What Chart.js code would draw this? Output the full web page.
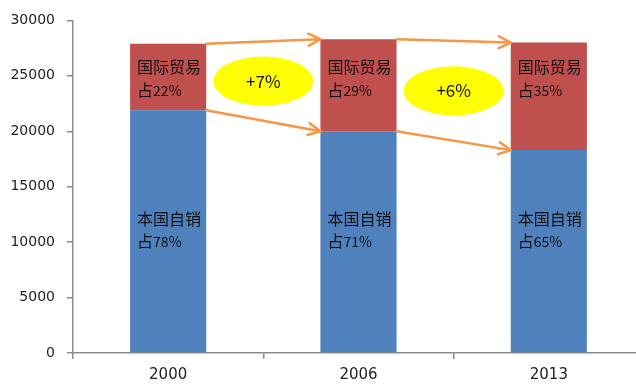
<!DOCTYPE html>
<html>
<head>
<meta charset="utf-8">
<script src="https://cdn.jsdelivr.net/npm/chart.js@4"></script>
<style>
    html, body { margin: 0; padding: 0; background: #fff; overflow: hidden; }
    /* оригинал обрезан справа: ось X уходит за край картинки */
    #wrap { width: 644px; height: 387px; }
</style>
</head>
<body>
<div id="wrap"><canvas id="chart"></canvas></div>
<script>
// данные
const years = ['2000', '2006', '2013'];
const domestic = [21900, 20000, 18300];
const trade = [6000, 8300, 9700];
const domesticShare = ['78%', '71%', '65%'];
const tradeShare = ['22%', '29%', '35%'];
const gains = ['+7%', '+6%'];
const yTicks = [0, 5000, 10000, 15000, 20000, 25000, 30000];

const BLUE = '#4F81BD';
const RED = '#C0504D';
const ORANGE = '#F79646';
const AXIS = '#8c8c8c';
const CJK = '"Noto Sans CJK SC", sans-serif';

function arrow(ctx, x1, y1, x2, y2) {
    const a = Math.atan2(y2 - y1, x2 - x1);
    ctx.beginPath();
    ctx.moveTo(x1, y1);
    ctx.lineTo(x2, y2);
    ctx.stroke();
    ctx.beginPath();
    ctx.moveTo(x2 - 12 * Math.cos(a) + 6 * Math.sin(a), y2 - 12 * Math.sin(a) - 6 * Math.cos(a));
    ctx.lineTo(x2, y2);
    ctx.lineTo(x2 - 12 * Math.cos(a) - 6 * Math.sin(a), y2 - 12 * Math.sin(a) + 6 * Math.cos(a));
    ctx.stroke();
}

function twoPart(ctx, x, y, head, tail) {
    ctx.font = '16px ' + CJK;
    ctx.fillText(head, x, y);
    const w = ctx.measureText(head).width;
    ctx.font = '14px ' + CJK;
    ctx.fillText(tail, x + w, y);
}

const overlay = {
    id: 'overlay',
    afterDatasetsDraw(chart) {
        const ctx = chart.ctx;
        const area = chart.chartArea;
        const low = chart.getDatasetMeta(0).data;
        const high = chart.getDatasetMeta(1).data;

        ctx.save();
        // стрелки и овалы между столбцами
        ctx.strokeStyle = ORANGE;
        ctx.lineWidth = 2.5;
        ctx.lineCap = 'round';
        ctx.lineJoin = 'round';
        for (let i = 0; i < low.length - 1; i++) {
            const xa = low[i].x + low[i].width / 2;
            const xb = low[i + 1].x - low[i + 1].width / 2;
            arrow(ctx, xa, high[i].y, xb, high[i + 1].y);
            arrow(ctx, xa, low[i].y, xb, low[i + 1].y);

            const cx = (xa + xb) / 2;
            const cy = (high[i].y + high[i + 1].y + low[i].y + low[i + 1].y) / 4;
            ctx.fillStyle = '#FFFF00';
            ctx.beginPath();
            ctx.ellipse(cx, cy, 50, 24.5, 0, 0, Math.PI * 2);
            ctx.fill();
            ctx.fillStyle = '#111';
            ctx.font = '17px ' + CJK;
            ctx.textAlign = 'center';
            ctx.textBaseline = 'middle';
            ctx.fillText(gains[i], cx, cy);
        }

        // подписи внутри столбцов
        ctx.fillStyle = '#111';
        ctx.textAlign = 'left';
        ctx.textBaseline = 'middle';
        low.forEach((bar, i) => {
            const x = bar.x - bar.width / 2 + 7;
            ctx.font = '16px ' + CJK;
            ctx.fillText('国际贸易', x, area.top + 47);
            twoPart(ctx, x, area.top + 70, '占', tradeShare[i]);
            ctx.font = '16px ' + CJK;
            ctx.fillText('本国自销', x, area.top + 199);
            twoPart(ctx, x, area.top + 221, '占', domesticShare[i]);
        });
        ctx.restore();
    }
};

new Chart(document.getElementById('chart'), {
    type: 'bar',
    data: {
        labels: years,
        datasets: [
            { label: '本国自销', data: domestic, backgroundColor: BLUE },
            { label: '国际贸易', data: trade, backgroundColor: RED }
        ]
    },
    options: {
        responsive: true,
        maintainAspectRatio: false,
        animation: false,
        events: [],
        layout: { padding: { top: 17, right: 0, left: 0, bottom: 0 } },
        datasets: { bar: { barPercentage: 0.4, categoryPercentage: 1 } },
        plugins: {
            legend: { display: false },
            tooltip: { enabled: false }
        },
        scales: {
            x: {
                stacked: true,
                afterFit: s => { s.height = 34; },
                border: { color: AXIS, width: 1.5 },
                grid: { offset: true, drawOnChartArea: false, tickLength: 6, color: AXIS, lineWidth: 1.5 },
                ticks: { color: '#222', padding: 7, font: { family: '"DejaVu Sans"', size: 15 } }
            },
            y: {
                stacked: true,
                min: 0,
                max: 30000,
                afterFit: s => { s.width = 73; },
                afterBuildTicks: s => { s.ticks = yTicks.map(v => ({ value: v })); },
                border: { color: AXIS, width: 1.5 },
                grid: { drawOnChartArea: false, tickLength: 6, color: AXIS, lineWidth: 1.5 },
                ticks: {
                    color: '#222',
                    padding: 12,
                    font: { family: '"DejaVu Sans"', size: 14 },
                    callback: v => String(v)
                }
            }
        }
    },
    plugins: [overlay]
});
</script>
</body>
</html>
